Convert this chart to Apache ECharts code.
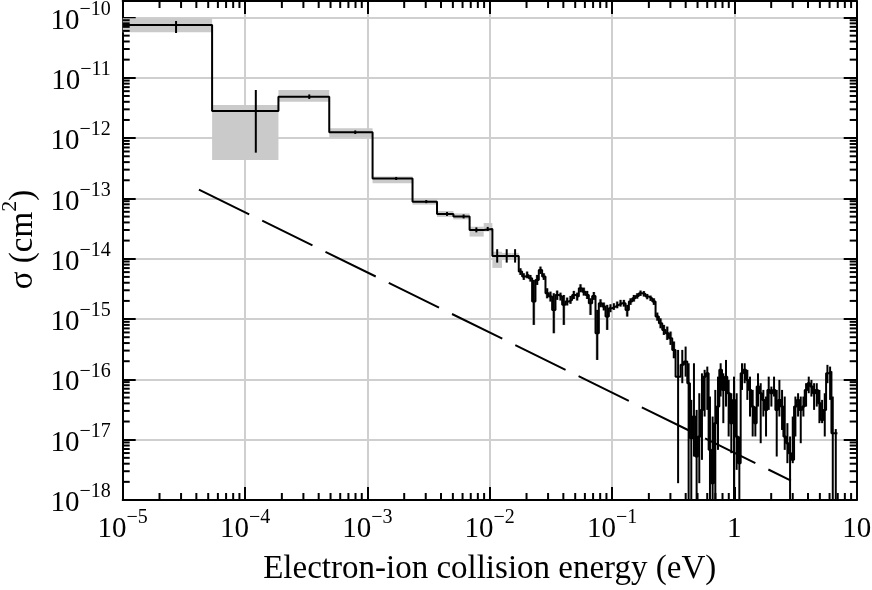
<!DOCTYPE html>
<html><head><meta charset="utf-8">
<script src="https://cdn.jsdelivr.net/npm/echarts@6/dist/echarts.min.js"></script>
<style>html,body{margin:0;padding:0;background:#fff}#c{width:872px;height:590px}</style>
</head><body><div id="c"></div>
<script>
// ---------------- DATA ----------------
// Axis ranges
const xMin = 1e-5, xMax = 10;
const yMin = 1e-18, yMax = 1.877e-10;

// Tick labels (value -> [base, superscript])
const xTickValues = [1e-5, 1e-4, 1e-3, 1e-2, 1e-1, 1, 10];
const xTickLabels = [['10','−5'],['10','−4'],['10','−3'],['10','−2'],['10','−1'],['1',''],['10','']];
const yTickValues = [1e-18, 1e-17, 1e-16, 1e-15, 1e-14, 1e-13, 1e-12, 1e-11, 1e-10];
const yTickLabels = [['10','−18'],['10','−17'],['10','−16'],['10','−15'],['10','−14'],['10','−13'],['10','−12'],['10','−11'],['10','−10']];

// Bin edges (eV) of the measured region with systematic band
const edges = [1e-5, 5.38e-5, 1.875e-4, 4.88e-4, 1.103e-3, 2.34e-3, 3.71e-3, 5.05e-3, 6.85e-3, 8.93e-3,
  1.052e-2, 1.26e-2, 1.505e-2,
  0.01728, 0.01841, 0.01960, 0.02087, 0.02222, 0.02366, 0.02520, 0.02683, 0.02857, 0.03042,
  0.03239, 0.03449, 0.03673, 0.03911, 0.04164, 0.04434, 0.04721, 0.05027, 0.05353, 0.05700,
  0.06069, 0.06462, 0.06881, 0.07327, 0.07802, 0.08307, 0.08845, 0.09419, 0.1003, 0.1068,
  0.1137, 0.1211, 0.1290, 0.1373, 0.1462, 0.1557, 0.1658, 0.1765, 0.1879, 0.2001,
  0.2131, 0.2269, 0.2416, 0.2573, 0.2739, 0.2917, 0.3106, 0.3307];
// Cross section (cm^2) per bin
const sigma = [7.5e-11, 2.82e-12, 4.87e-12, 1.25e-12, 2.14e-13, 8.85e-14, 5.53e-14, 5.03e-14, 3.01e-14, 3.12e-14,
  1.11e-14, 1.11e-14, 1.11e-14,
  6.13e-15, 5.06e-15, 5.39e-15, 4.75e-15, 1.95e-15, 4.46e-15, 6.53e-15, 5.06e-15, 2.68e-15, 2.36e-15,
  1.42e-15, 2.51e-15, 2.36e-15, 1.72e-15, 1.95e-15, 2.08e-15, 2.51e-15, 2.36e-15, 3.24e-15, 2.85e-15,
  2.51e-15, 1.83e-15, 2.42e-15, 5.82e-16, 1.83e-15, 1.61e-15, 1.10e-15, 1.51e-15, 1.61e-15, 1.72e-15,
  1.83e-15, 1.83e-15, 1.42e-15, 1.95e-15, 2.21e-15, 2.42e-15, 2.68e-15, 2.61e-15, 2.36e-15, 2.21e-15,
  1.95e-15, 1.10e-15, 8.52e-16, 6.61e-16, 5.82e-16, 4.81e-16, 3.08e-16];
// Statistical error bar limits
const errLo = [5.53e-11, 5.74e-13, 4.46e-12, 1.17e-12, 2.02e-13, 8.35e-14, 5.13e-14, 4.66e-14, 2.74e-14, 2.89e-14,
  8.63e-15, 8.63e-15, 8.63e-15,
  5.39e-15, 4.46e-15, 4.75e-15, 4.18e-15, 8.00e-16, 3.68e-15, 5.60e-15, 4.46e-15, 2.21e-15, 1.95e-15,
  5.82e-16, 2.08e-15, 2.03e-15, 8.00e-16, 1.68e-15, 1.79e-15, 2.15e-15, 2.03e-15, 2.78e-15, 2.45e-15,
  2.15e-15, 1.17e-15, 2.08e-15, 2.10e-16, 1.57e-15, 1.39e-15, 6.61e-16, 1.30e-15, 1.42e-15, 1.51e-15,
  1.61e-15, 1.61e-15, 1.10e-15, 1.72e-15, 1.95e-15, 2.18e-15, 2.42e-15, 2.36e-15, 2.13e-15, 2.00e-15,
  1.72e-15, 9.40e-16, 7.04e-16, 5.46e-16, 4.51e-16, 3.73e-16, 2.24e-16];
const errHi = [8.75e-11, 6.28e-12, 5.30e-12, 1.34e-12, 2.27e-13, 9.40e-14, 5.97e-14, 5.43e-14, 3.31e-14, 3.37e-14,
  1.44e-14, 1.44e-14, 1.44e-14,
  6.96e-15, 5.75e-15, 6.13e-15, 5.39e-15, 4.46e-15, 5.39e-15, 7.41e-15, 5.75e-15, 3.24e-15, 2.85e-15,
  2.68e-15, 2.97e-15, 2.74e-15, 2.51e-15, 2.27e-15, 2.42e-15, 2.93e-15, 2.74e-15, 3.78e-15, 3.32e-15,
  2.93e-15, 2.21e-15, 2.81e-15, 1.42e-15, 2.13e-15, 1.88e-15, 1.72e-15, 1.76e-15, 1.83e-15, 1.95e-15,
  2.08e-15, 2.08e-15, 1.72e-15, 2.21e-15, 2.51e-15, 2.68e-15, 2.97e-15, 2.91e-15, 2.61e-15, 2.45e-15,
  2.21e-15, 1.28e-15, 1.03e-15, 8.00e-16, 7.51e-16, 6.20e-16, 4.24e-16];
// Error bar energies for the wide bins (the others sit at bin centre)
const barE = [2.73e-5, 1.225e-4, 3.35e-4, 7.96e-4, 1.72e-3, 3.03e-3, 4.48e-3, 6.12e-3, 7.78e-3, 9.63e-3];
// Systematic (grey) band for the wide bins (finer bins: band = error range)
const bandLo = [5.69e-11, 4.35e-13, 4.02e-12, 1.03e-12, 1.79e-13, 7.89e-14, 4.93e-14, 4.49e-14, 2.33e-14, 2.83e-14, 7.05e-15, 9.7e-15, 9.7e-15];
const bandHi = [9.70e-11, 3.55e-12, 6.28e-12, 1.46e-12, 2.30e-13, 9.93e-14, 6.20e-14, 5.64e-14, 3.40e-14, 3.91e-14, 1.31e-14, 1.25e-14, 1.25e-14];

// High-energy tail (no grey band)
const tailEdges = [0.3307, 0.3636, 0.3871, 0.4122, 0.4335, 0.4558, 0.4793, 0.5039, 0.5299, 0.5572, 0.5859,
  0.6161, 0.6478, 0.6812, 0.7163, 0.7532, 0.7920, 0.8328, 0.8756, 0.9208, 0.9684,
  1.0183, 1.0708, 1.1259, 1.1840, 1.2450, 1.3092, 1.3766, 1.4475, 1.5221, 1.6006,
  1.6830, 1.7697, 1.8613, 1.9572, 2.0581, 2.1641, 2.2757, 2.3931, 2.5164, 2.6461,
  2.7824, 2.9258, 3.0766, 3.2351, 3.4016, 3.5770, 3.7611, 3.9549, 4.1587, 4.3731,
  4.5981, 4.8350, 5.0843, 5.3461, 5.6214, 5.9111, 6.2156, 6.5360, 6.9596];
const tailSigma = [1.11e-16, 1.74e-16, 1.97e-16, 8.64e-17, 1.06e-17, 2.42e-17, 5.26e-18, 1.13e-17, 3.12e-17, 1.11e-16, 1.26e-16,
  6.78e-18, 1.90e-18, 1.88e-17, 3.54e-17, 1.44e-16, 6.69e-17, 1.11e-16, 5.89e-17, 1.88e-17, 4.57e-17,
  1.13e-17, 4.08e-18, 1.26e-16, 1.44e-16, 9.80e-17, 6.69e-17, 3.54e-17, 1.88e-17, 7.60e-17, 5.89e-17,
  4.57e-17, 3.12e-17, 6.69e-17, 5.89e-17, 6.69e-17, 3.12e-17, 4.57e-17, 3.54e-17, 1.13e-17, 8.74e-18,
  5.97e-18, 4.63e-18, 3.54e-17, 4.57e-17, 3.12e-17, 3.54e-17, 6.69e-17, 8.64e-17, 7.60e-17, 5.89e-17,
  6.69e-17, 4.02e-17, 2.13e-17, 3.12e-17, 1.26e-16, 1.35e-16, 1.28e-17, 1.28e-17];
const tailErrLo = [1.9e-18, 8.64e-17, 1.11e-16, 1e-18, 1e-18, 5.26e-18, 1e-18, 1.90e-18, 4.63e-18, 2.42e-17, 3.12e-17,
  1e-18, 1e-18, 1e-18, 6.78e-18, 5.19e-17, 1.88e-17, 3.54e-17, 1.13e-17, 5.97e-18, 1e-18,
  3.16e-18, 1e-18, 6.69e-17, 8.64e-17, 4.57e-17, 2.42e-17, 1.13e-17, 1.13e-17, 3.54e-17, 8.74e-18,
  2.42e-17, 1.13e-17, 3.12e-17, 3.54e-17, 5.19e-17, 5.26e-18, 2.42e-17, 1.45e-17, 6.78e-18, 4.08e-18,
  1e-18, 4.08e-18, 1.13e-17, 2.42e-17, 8.74e-18, 2.42e-17, 3.54e-17, 5.89e-17, 5.19e-17, 3.12e-17,
  3.54e-17, 1.88e-17, 1.88e-17, 1.13e-17, 8.64e-17, 4.57e-17, 1e-18, 1e-18];
const tailErrHi = [3.08e-16, 3.08e-16, 3.50e-16, 1.85e-16, 4.57e-17, 1.85e-16, 3.12e-17, 5.89e-17, 1.26e-16, 1.44e-16, 1.63e-16,
  5.19e-17, 2.42e-17, 6.69e-17, 1.11e-16, 1.85e-16, 1.26e-16, 2.10e-16, 9.80e-17, 5.89e-17, 1.11e-16,
  5.89e-17, 1.13e-17, 1.85e-16, 1.85e-16, 1.44e-16, 1.11e-16, 6.69e-17, 3.54e-17, 1.26e-16, 8.64e-17,
  6.69e-17, 5.19e-17, 1.11e-16, 7.60e-17, 1.11e-16, 6.69e-17, 9.80e-17, 6.69e-17, 5.19e-17, 1.88e-17,
  1.13e-17, 2.42e-17, 5.19e-17, 5.89e-17, 5.19e-17, 5.19e-17, 8.64e-17, 1.11e-16, 9.80e-17, 8.64e-17,
  8.64e-17, 6.69e-17, 4.57e-17, 5.89e-17, 1.74e-16, 1.63e-16, 5.19e-17, 1.50e-17];

// Dashed reference line (two end points)
const fitE = [4.2e-5, 2.9];
const fitSigma = [1.4e-13, 2.1e-18];

// ---------------- BUILD ----------------
const FONT = '"Liberation Serif","Times New Roman",Times,serif';
const allEdges = edges.concat(tailEdges.slice(1));
const allSigma = sigma.concat(tailSigma);
const allLo = errLo.concat(tailErrLo);
const allHi = errHi.concat(tailErrHi);

const stepData = [];
allSigma.forEach((s, i) => { stepData.push([allEdges[i], s]); stepData.push([allEdges[i + 1], s]); });

const bandData = sigma.map((s, i) => [edges[i], edges[i + 1],
  i < bandLo.length ? bandLo[i] : errLo[i], i < bandHi.length ? bandHi[i] : errHi[i]]);

const errData = allSigma.map((s, i) => [i < barE.length ? barE[i] : Math.sqrt(allEdges[i] * allEdges[i + 1]), allLo[i], allHi[i]]);

// log minor tick positions (axis decoration)
const minorTicks = [];
for (let d = -5; d < 1; d++) for (let m = 2; m <= 9; m++) minorTicks.push([m * Math.pow(10, d), yMin, 0]);
for (let d = -18; d <= -10; d++) for (let m = 2; m <= 9; m++) { const v = m * Math.pow(10, d); if (v < yMax) minorTicks.push([xMin, v, 1]); }

function fmt(values, labels) {
  return function (v) {
    for (let i = 0; i < values.length; i++) {
      if (Math.abs(Math.log10(v) - Math.log10(values[i])) < 1e-6) {
        const l = labels[i];
        return '{b|' + l[0] + '}' + (l[1] ? '{s|' + l[1] + '}' : '');
      }
    }
    return '';
  };
}
const rich = {
  b: { fontFamily: FONT, fontSize: 29, lineHeight: 36, verticalAlign: 'bottom', color: '#000' },
  s: { fontFamily: FONT, fontSize: 20, lineHeight: 20, verticalAlign: 'top', color: '#000' }
};
const axisLine = { show: true, lineStyle: { color: '#000', width: 2 } };
const axisTick = { show: true, inside: true, length: 13, lineStyle: { color: '#000', width: 2 } };
const splitLine = { show: true, lineStyle: { color: '#cfcfcf', width: 2 } };

const chart = echarts.init(document.getElementById('c'), null, { renderer: 'canvas' });
chart.setOption({
  animation: false,
  backgroundColor: '#fff',
  grid: { left: 122.7, right: 15.3, top: 1, bottom: 90, containLabel: false, outerBoundsMode: 'none' },
  xAxis: [
    { type: 'log', logBase: 10, min: xMin, max: xMax, position: 'bottom', splitNumber: 6,
      axisLine, axisTick, splitLine,
      axisLabel: { margin: 8, formatter: fmt(xTickValues, xTickLabels), rich, showMinLabel: true, showMaxLabel: true },
      name: 'Electron-ion collision energy (eV)', nameLocation: 'middle', nameGap: 53,
      nameTextStyle: { fontFamily: FONT, fontSize: 33, color: '#000' } },
    { type: 'log', logBase: 10, min: xMin, max: xMax, position: 'top', splitNumber: 6,
      axisLine, axisTick, splitLine: { show: false }, axisLabel: { show: false } }
  ],
  yAxis: [
    { type: 'log', logBase: 10, min: yMin, max: yMax, position: 'left', splitNumber: 8,
      axisLine, axisTick, splitLine,
      axisLabel: { margin: 12, formatter: fmt(yTickValues, yTickLabels), rich },
      name: '{t|σ (cm}{u|2}{t|)}', nameLocation: 'middle', nameGap: 82,
      nameTextStyle: { color: '#000', padding: [0, 0, 0, 22], rich: {
        t: { fontFamily: FONT, fontSize: 33, lineHeight: 40, verticalAlign: 'bottom', color: '#000' },
        u: { fontFamily: FONT, fontSize: 22, lineHeight: 22, verticalAlign: 'top', color: '#000' } } } },
    { type: 'log', logBase: 10, min: yMin, max: yMax, position: 'right', splitNumber: 8,
      axisLine, axisTick, splitLine: { show: false }, axisLabel: { show: false } }
  ],
  series: [
    { type: 'custom', name: 'band', z: 1, silent: true, clip: true,
      data: bandData, encode: { x: [0, 1], y: [2, 3] },
      renderItem: function (params, api) {
        const p0 = api.coord([api.value(0), api.value(3)]);
        const p1 = api.coord([api.value(1), api.value(2)]);
        return { type: 'rect', shape: { x: p0[0], y: p0[1], width: p1[0] - p0[0], height: p1[1] - p0[1] },
          style: { fill: '#cacaca' } };
      } },
    { type: 'line', name: 'sigma', z: 3, data: stepData, showSymbol: false, symbol: 'none', clip: true,
      lineStyle: { color: '#000', width: 2 }, silent: true },
    { type: 'custom', name: 'errors', z: 4, silent: true, clip: true,
      data: errData, encode: { x: 0, y: [1, 2] },
      renderItem: function (params, api) {
        const a = api.coord([api.value(0), api.value(1)]);
        const b = api.coord([api.value(0), api.value(2)]);
        return { type: 'line', shape: { x1: a[0], y1: a[1], x2: b[0], y2: b[1] },
          style: { stroke: '#000', lineWidth: 2 } };
      } },
    { type: 'line', name: 'fit', z: 5, data: fitE.map((e, i) => [e, fitSigma[i]]), showSymbol: false, symbol: 'none',
      lineStyle: { color: '#000', width: 2, type: [56, 14.5] }, silent: true },
    { type: 'custom', name: 'minor', z: 6, silent: true,
      data: minorTicks, encode: { x: 0, y: 1 },
      renderItem: function (params, api) {
        const cs = params.coordSys;
        const p = api.coord([api.value(0), api.value(1)]);
        const st = { stroke: '#000', lineWidth: 2 };
        const L = 7;
        if (api.value(2) === 0) {
          return { type: 'group', children: [
            { type: 'line', shape: { x1: p[0], y1: cs.y + cs.height, x2: p[0], y2: cs.y + cs.height - L }, style: st },
            { type: 'line', shape: { x1: p[0], y1: cs.y, x2: p[0], y2: cs.y + L }, style: st } ] };
        }
        return { type: 'group', children: [
          { type: 'line', shape: { x1: cs.x, y1: p[1], x2: cs.x + L, y2: p[1] }, style: st },
          { type: 'line', shape: { x1: cs.x + cs.width, y1: p[1], x2: cs.x + cs.width - L, y2: p[1] }, style: st } ] };
      } }
  ]
});
</script>
</body></html>
